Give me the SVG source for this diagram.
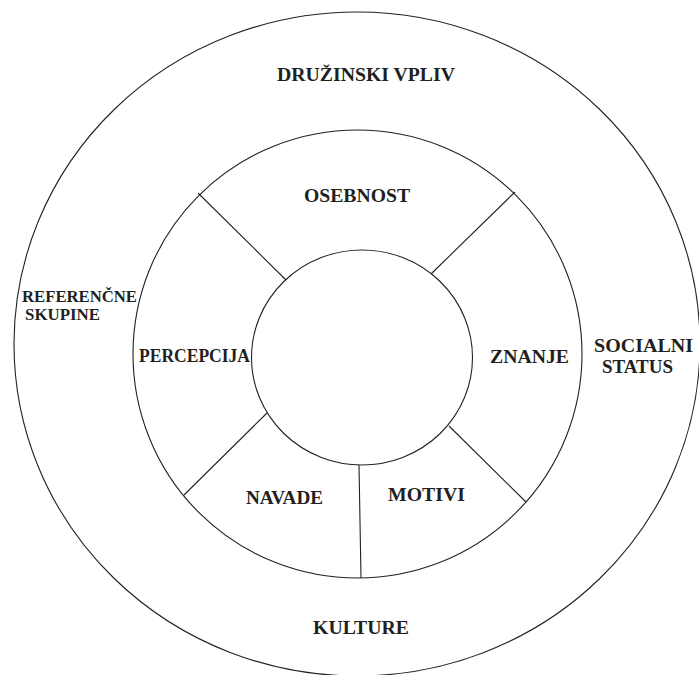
<svg xmlns="http://www.w3.org/2000/svg" width="699" height="675" viewBox="0 0 699 675">
<style>
.ring{fill:none;stroke:#222;stroke-width:1.1}
.div{stroke:#222;stroke-width:1.1}
.lbl{font-family:"Liberation Serif","Times New Roman",serif;font-weight:bold;font-size:19px;fill:#231f20}
.sm{font-size:16px}
</style>
<rect width="699" height="675" fill="#fff"/>
<g id="rings">
<ellipse class="ring" cx="357" cy="344" rx="343" ry="332"/>
<ellipse class="ring" cx="357.5" cy="354" rx="224.5" ry="224"/>
<ellipse class="ring" cx="362" cy="357.5" rx="110.5" ry="107.5"/>
</g>
<g id="connectors">
<line class="div" x1="198" y1="193" x2="286" y2="280"/>
<line class="div" x1="515" y1="192" x2="431" y2="274"/>
<line class="div" x1="267" y1="413" x2="184" y2="495"/>
<line class="div" x1="449" y1="426" x2="526" y2="502"/>
<line class="div" x1="359" y1="465" x2="361" y2="578"/>
</g>
<g id="druzinski-vpliv"><text class="lbl" x="277" y="81" textLength="178" lengthAdjust="spacingAndGlyphs">DRUŽINSKI VPLIV</text></g>
<g id="osebnost"><text class="lbl" x="304" y="202" textLength="106" lengthAdjust="spacingAndGlyphs">OSEBNOST</text></g>
<g id="referencne-skupine">
<text class="lbl sm" x="22" y="302" textLength="115" lengthAdjust="spacingAndGlyphs">REFERENČNE</text>
<text class="lbl sm" x="25" y="320" textLength="75" lengthAdjust="spacingAndGlyphs">SKUPINE</text>
</g>
<g id="percepcija"><text class="lbl" x="139" y="362" textLength="111" lengthAdjust="spacingAndGlyphs">PERCEPCIJA</text></g>
<g id="znanje"><text class="lbl" x="490" y="363" textLength="79" lengthAdjust="spacingAndGlyphs">ZNANJE</text></g>
<g id="socialni-status">
<text class="lbl" x="594" y="352" textLength="99" lengthAdjust="spacingAndGlyphs">SOCIALNI</text>
<text class="lbl" x="602" y="373" textLength="71" lengthAdjust="spacingAndGlyphs">STATUS</text>
</g>
<g id="navade"><text class="lbl" x="246" y="504" textLength="77" lengthAdjust="spacingAndGlyphs">NAVADE</text></g>
<g id="motivi"><text class="lbl" x="388" y="501" textLength="77" lengthAdjust="spacingAndGlyphs">MOTIVI</text></g>
<g id="kulture"><text class="lbl" x="313" y="634" textLength="96" lengthAdjust="spacingAndGlyphs">KULTURE</text></g>
</svg>
